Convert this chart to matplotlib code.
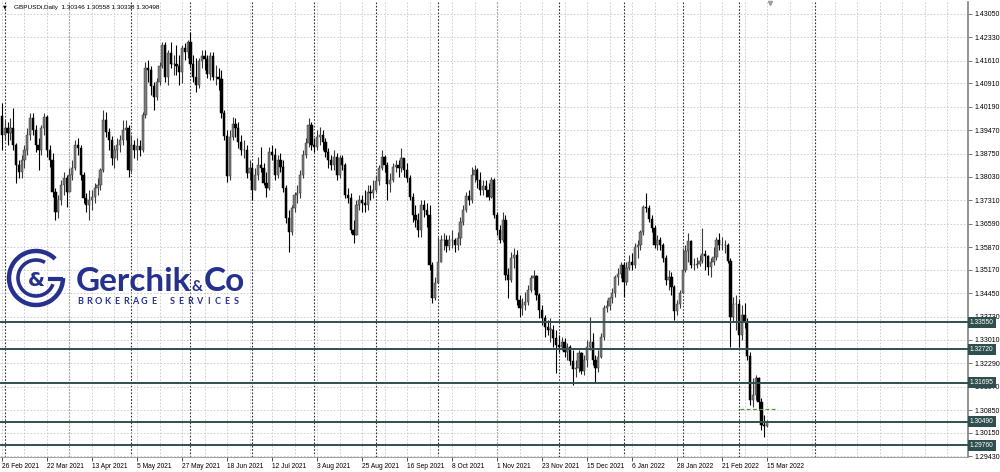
import matplotlib
matplotlib.use('Agg')
import matplotlib.pyplot as plt
from matplotlib.patches import Arc
import numpy as np

plt.rcParams['font.family'] = ['Liberation Sans', 'DejaVu Sans']

# GBPUSDi daily bars, 26 Feb 2021 .. 15 Mar 2022
first_open = 1.3990
closes = [
    1.3932, 1.3954, 1.3938, 1.3954, 1.3901, 1.3840, 1.3818, 1.3855, 1.3886, 1.3932,
    1.3985, 1.3948, 1.3901, 1.3886, 1.3954, 1.3988, 1.3886, 1.3855, 1.3757, 1.3695,
    1.3732, 1.3778, 1.3800, 1.3757,
    1.3809, 1.3831, 1.3901, 1.3892, 1.3809, 1.3738, 1.3717, 1.3732, 1.3741, 1.3769,
    1.3778, 1.3824, 1.3978, 1.3941, 1.3917, 1.3861, 1.3886, 1.3901, 1.3917, 1.3948, 1.3954, 1.3824,
    1.3901, 1.3886, 1.3898, 1.3886, 1.3994, 1.4139, 1.4132, 1.4083, 1.4049, 1.4095,
    1.4145, 1.4209, 1.4111, 1.4185, 1.4151, 1.4151, 1.4145, 1.4126, 1.4200, 1.4188, 1.4219,
    1.4151, 1.4111, 1.4086, 1.4160, 1.4176, 1.4166, 1.4120, 1.4176, 1.4111, 1.4111, 1.4105,
    1.4000, 1.3929, 1.3806, 1.3926, 1.3966, 1.3954, 1.3911, 1.3886, 1.3886, 1.3815, 1.3831,
    1.3763, 1.3809, 1.3840, 1.3831, 1.3784, 1.3769, 1.3880, 1.3871, 1.3809, 1.3855, 1.3834,
    1.3769, 1.3677, 1.3633, 1.3707, 1.3748, 1.3754, 1.3809, 1.3871, 1.3908, 1.3963, 1.3901,
    1.3895, 1.3926, 1.3932, 1.3911, 1.3880, 1.3855, 1.3840, 1.3864, 1.3809, 1.3861, 1.3840,
    1.3748, 1.3738, 1.3640, 1.3624, 1.3717, 1.3732, 1.3723, 1.3717, 1.3757, 1.3754, 1.3763,
    1.3791, 1.3831, 1.3864, 1.3840, 1.3781, 1.3794, 1.3834, 1.3840, 1.3831, 1.3861, 1.3824,
    1.3800, 1.3741, 1.3686, 1.3670, 1.3640, 1.3717, 1.3701, 1.3686, 1.3532, 1.3430, 1.3476,
    1.3541, 1.3609, 1.3609, 1.3590, 1.3609, 1.3609, 1.3593, 1.3615, 1.3664, 1.3701, 1.3744,
    1.3732, 1.3809, 1.3824, 1.3794, 1.3763, 1.3775, 1.3763, 1.3741, 1.3794, 1.3686,
    1.3640, 1.3609, 1.3670, 1.3501, 1.3486, 1.3553, 1.3563, 1.3424, 1.3399, 1.3409, 1.3418,
    1.3455, 1.3492, 1.3498, 1.3439, 1.3393, 1.3369, 1.3341, 1.3332, 1.3332, 1.3307, 1.3285,
    1.3279, 1.3295, 1.3264, 1.3279, 1.3236, 1.3212, 1.3215, 1.3261, 1.3205, 1.3239, 1.3279,
    1.3295, 1.3239, 1.3215, 1.3248, 1.3310, 1.3399, 1.3406, 1.3430, 1.3446, 1.3495, 1.3504, 1.3532,
    1.3479, 1.3523, 1.3541, 1.3532, 1.3587, 1.3593, 1.3633, 1.3710, 1.3707, 1.3673, 1.3646,
    1.3593, 1.3609, 1.3593, 1.3553, 1.3486, 1.3495, 1.3464, 1.3390, 1.3412, 1.3446,
    1.3516, 1.3575, 1.3606, 1.3532, 1.3532, 1.3535, 1.3544, 1.3566, 1.3560, 1.3526,
    1.3541, 1.3557, 1.3609, 1.3593, 1.3593, 1.3593, 1.3544, 1.3372, 1.3412, 1.3412,
    1.3316, 1.3378, 1.3356, 1.3252, 1.3116, 1.3131, 1.3184, 1.3110, 1.3039, 1.30346, 1.30498,
]
highs = [
    1.4031, 1.3978, 1.3972, 1.3985, 1.4015, 1.3908, 1.3855, 1.3871, 1.3901, 1.3954,
    1.4000, 1.4000, 1.3963, 1.3923, 1.3963, 1.4000, 1.3994, 1.3901, 1.3877, 1.3769,
    1.3748, 1.3794, 1.3818, 1.3809,
    1.3831, 1.3855, 1.3917, 1.3923, 1.3901, 1.3818, 1.3754, 1.3763, 1.3763, 1.3784,
    1.3800, 1.3831, 1.4009, 1.4003, 1.3954, 1.3929, 1.3901, 1.3923, 1.3932, 1.3978, 1.3978, 1.3963,
    1.3932, 1.3917, 1.3923, 1.3917, 1.4003, 1.4157, 1.4163, 1.4145, 1.4095, 1.4108,
    1.4157, 1.4219, 1.4219, 1.4194, 1.4219, 1.4179, 1.4209, 1.4179, 1.4209, 1.4216, 1.4225,
    1.4249, 1.4179, 1.4169, 1.4169, 1.4194, 1.4194, 1.4179, 1.4188, 1.4188, 1.4148, 1.4139,
    1.4132, 1.4009, 1.3948, 1.3948, 1.3988, 1.3985, 1.3972, 1.3932, 1.3917, 1.3901, 1.3855,
    1.3846, 1.3831, 1.3864, 1.3895, 1.3846, 1.3818, 1.3895, 1.3901, 1.3892, 1.3871, 1.3877,
    1.3855, 1.3778, 1.3701, 1.3717, 1.3757, 1.3778, 1.3824, 1.3886, 1.3923, 1.3985, 1.3972,
    1.3923, 1.3948, 1.3957, 1.3948, 1.3923, 1.3892, 1.3871, 1.3886, 1.3877, 1.3871, 1.3871,
    1.3846, 1.3769, 1.3754, 1.3670, 1.3732, 1.3748, 1.3748, 1.3763, 1.3778, 1.3778, 1.3794,
    1.3809, 1.3840, 1.3886, 1.3871, 1.3849, 1.3815, 1.3846, 1.3855, 1.3855, 1.3892, 1.3855,
    1.3846, 1.3809, 1.3754, 1.3717, 1.3692, 1.3732, 1.3732, 1.3723, 1.3717, 1.3541, 1.3495,
    1.3618, 1.3624, 1.3630, 1.3624, 1.3624, 1.3640, 1.3615, 1.3633, 1.3680, 1.3717, 1.3757,
    1.3763, 1.3834, 1.3840, 1.3831, 1.3818, 1.3794, 1.3794, 1.3784, 1.3803, 1.3800,
    1.3695, 1.3655, 1.3695, 1.3686, 1.3523, 1.3572, 1.3584, 1.3578, 1.3439, 1.3430, 1.3449,
    1.3470, 1.3501, 1.3516, 1.3501, 1.3446, 1.3409, 1.3378, 1.3362, 1.3369, 1.3347, 1.3332,
    1.3316, 1.3310, 1.3307, 1.3292, 1.3285, 1.3270, 1.3239, 1.3270, 1.3264, 1.3255, 1.3301,
    1.3372, 1.3322, 1.3255, 1.3270, 1.3322, 1.3409, 1.3424, 1.3433, 1.3461, 1.3501, 1.3523, 1.3541,
    1.3541, 1.3541, 1.3563, 1.3569, 1.3600, 1.3609, 1.3640, 1.3717, 1.3754, 1.3717, 1.3686,
    1.3655, 1.3624, 1.3618, 1.3600, 1.3563, 1.3516, 1.3510, 1.3470, 1.3424, 1.3455,
    1.3584, 1.3593, 1.3630, 1.3609, 1.3553, 1.3557, 1.3563, 1.3646, 1.3578, 1.3563,
    1.3553, 1.3587, 1.3618, 1.3630, 1.3618, 1.3609, 1.3600, 1.3553, 1.3433, 1.3439,
    1.3424, 1.3409, 1.3415, 1.3369, 1.3264, 1.3184, 1.3193, 1.3187, 1.3122, 1.3070, 1.30558,
]
lows = [
    1.3886, 1.3917, 1.3901, 1.3917, 1.3886, 1.3784, 1.3800, 1.3800, 1.3831, 1.3871,
    1.3917, 1.3932, 1.3880, 1.3824, 1.3871, 1.3932, 1.3864, 1.3834, 1.3741, 1.3670,
    1.3677, 1.3717, 1.3748, 1.3710,
    1.3763, 1.3794, 1.3824, 1.3871, 1.3794, 1.3723, 1.3695, 1.3670, 1.3701, 1.3723,
    1.3748, 1.3763, 1.3818, 1.3926, 1.3886, 1.3840, 1.3831, 1.3855, 1.3880, 1.3901, 1.3917, 1.3803,
    1.3818, 1.3861, 1.3855, 1.3868, 1.3880, 1.3985, 1.4095, 1.4055, 1.4009, 1.4040,
    1.4086, 1.4139, 1.4095, 1.4086, 1.4139, 1.4117, 1.4117, 1.4086, 1.4092, 1.4163, 1.4169,
    1.4139, 1.4095, 1.4065, 1.4077, 1.4139, 1.4132, 1.4108, 1.4102, 1.4102, 1.4086, 1.4071,
    1.3985, 1.3917, 1.3788, 1.3794, 1.3917, 1.3926, 1.3892, 1.3871, 1.3861, 1.3800, 1.3794,
    1.3732, 1.3763, 1.3794, 1.3818, 1.3778, 1.3741, 1.3763, 1.3855, 1.3794, 1.3800, 1.3818,
    1.3757, 1.3661, 1.3572, 1.3624, 1.3695, 1.3723, 1.3738, 1.3800, 1.3861, 1.3895, 1.3886,
    1.3880, 1.3886, 1.3901, 1.3886, 1.3864, 1.3831, 1.3824, 1.3824, 1.3794, 1.3800, 1.3824,
    1.3738, 1.3723, 1.3630, 1.3600, 1.3624, 1.3701, 1.3695, 1.3695, 1.3701, 1.3732, 1.3738,
    1.3757, 1.3778, 1.3824, 1.3818, 1.3732, 1.3757, 1.3788, 1.3818, 1.3803, 1.3818, 1.3803,
    1.3788, 1.3732, 1.3664, 1.3649, 1.3618, 1.3618, 1.3680, 1.3649, 1.3516, 1.3415, 1.3424,
    1.3523, 1.3541, 1.3578, 1.3572, 1.3578, 1.3584, 1.3572, 1.3578, 1.3593, 1.3655, 1.3695,
    1.3717, 1.3723, 1.3788, 1.3769, 1.3748, 1.3748, 1.3741, 1.3732, 1.3738, 1.3677,
    1.3624, 1.3600, 1.3603, 1.3486, 1.3430, 1.3479, 1.3523, 1.3409, 1.3372, 1.3378, 1.3393,
    1.3409, 1.3449, 1.3455, 1.3424, 1.3369, 1.3347, 1.3310, 1.3316, 1.3295, 1.3279, 1.3199,
    1.3264, 1.3270, 1.3248, 1.3239, 1.3224, 1.3162, 1.3187, 1.3202, 1.3196, 1.3193, 1.3218,
    1.3270, 1.3224, 1.3171, 1.3202, 1.3245, 1.3301, 1.3387, 1.3393, 1.3415, 1.3433, 1.3470, 1.3492,
    1.3433, 1.3470, 1.3516, 1.3516, 1.3523, 1.3553, 1.3578, 1.3624, 1.3695, 1.3664, 1.3633,
    1.3584, 1.3578, 1.3578, 1.3541, 1.3470, 1.3455, 1.3439, 1.3362, 1.3378, 1.3399,
    1.3501, 1.3510, 1.3541, 1.3523, 1.3516, 1.3523, 1.3529, 1.3538, 1.3516, 1.3501,
    1.3495, 1.3532, 1.3547, 1.3578, 1.3578, 1.3569, 1.3538, 1.3279, 1.3356, 1.3332,
    1.3279, 1.3301, 1.3338, 1.3239, 1.3101, 1.3095, 1.3116, 1.3085, 1.3024, 1.3002, 1.30338,
]

date_labels = ['26 Feb 2021', '22 Mar 2021', '13 Apr 2021', '5 May 2021', '27 May 2021',
               '18 Jun 2021', '12 Jul 2021', '3 Aug 2021', '25 Aug 2021', '16 Sep 2021',
               '8 Oct 2021', '1 Nov 2021', '23 Nov 2021', '15 Dec 2021', '6 Jan 2022',
               '28 Jan 2022', '21 Feb 2022', '15 Mar 2022']
label_step = 16
month_starts = [1, 24, 46, 67, 89, 111, 133, 155, 176, 198, 221, 242, 262, 289]
price_ticks = [1.43050, 1.42330, 1.41610, 1.40910, 1.40190, 1.39470, 1.38750, 1.38030,
               1.37310, 1.36590, 1.35870, 1.35170, 1.34450, 1.33730, 1.33010, 1.32290,
               1.31570, 1.30850, 1.30150, 1.29430]
levels = [1.33550, 1.32720, 1.31695, 1.30490, 1.29760]
green_level = 1.3087
green_span = (262.5, 275.5)
header = 'GBPUSDi,Daily  1.30346 1.30558 1.30338 1.30498'

n = len(closes)
idx = np.arange(n)
c = np.array(closes)
o = np.array([first_open] + closes[:-1])
h = np.array(highs)
l = np.array(lows)
up = c >= o

fig = plt.figure(figsize=(10, 4.72), dpi=100)
ax = fig.add_axes([0.0, 0.0318, 0.968, 0.964])
ax.set_xlim(-0.71, 343.46)
ax.set_ylim(1.29405, 1.4342)

# grid
ax.set_xticks(np.arange(0, 344, 8), minor=True)
ax.grid(which='both', axis='x', color='#c8c8c8', ls=(0, (2, 2)), lw=0.6, zorder=0)
ax.grid(which='major', axis='y', color='#c8c8c8', ls=(0, (2, 2)), lw=0.6, zorder=0)
for m in month_starts:
    ax.axvline(m, color='#303030', ls=(0, (1.5, 1.5)), lw=0.8, zorder=1)

# candles
bull, bear = '#7a7a7a', '#000000'
cols = np.where(up, bull, bear)
wick_cols = np.where(up, '#3a3a3a', bear)
ax.vlines(idx, l, h, colors=wick_cols, lw=0.8, zorder=2)
body_lo = np.minimum(o, c)
body_h = np.maximum(np.abs(c - o), 0.00012)
ax.bar(idx, body_h, bottom=body_lo, width=0.8, color=cols,
       edgecolor=wick_cols, lw=0.35, zorder=3)

# levels
for lev in levels:
    ax.axhline(lev, color='#2f4f4f', lw=1.4, zorder=4)
    ax.text(1.002, lev, f'{lev:.5f}', transform=ax.get_yaxis_transform(),
            ha='left', va='center', fontsize=4.8, color='white', zorder=10,
            clip_on=False,
            bbox=dict(boxstyle='square,pad=0.3', fc='#2f4f4f', ec='none'))
ax.hlines(green_level, green_span[0], green_span[1], colors='#4f9a2f',
          linestyles=(0, (3, 2)), lw=0.9, zorder=4)

# axes
ax.yaxis.tick_right()
ax.set_yticks(price_ticks)
ax.set_yticklabels([f'{p:.5f}' for p in price_ticks])
ax.set_xticks(idx[::label_step])
ax.set_xticklabels(date_labels, ha='left')
ax.tick_params(axis='y', which='major', length=3, width=0.6, color='#606060',
               labelsize=5, pad=1.5)
ax.tick_params(axis='x', which='major', length=3, width=0.6, color='#303030',
               labelsize=4.8, pad=1)
ax.tick_params(axis='x', which='minor', length=0)
for side in ['top', 'left']:
    ax.spines[side].set_visible(False)
ax.spines['right'].set_color('#808080')
ax.spines['right'].set_linewidth(1.2)
ax.spines['bottom'].set_color('#909090')
ax.spines['bottom'].set_linewidth(0.6)

# overlay in pixel coordinates for header and logo
ov = fig.add_axes([0, 0, 1, 1], zorder=5)
ov.set_xlim(0, 1000)
ov.set_ylim(472, 0)
ov.axis('off')
ov.patch.set_alpha(0)

ov.text(3, 7, '\u25bc', fontsize=3.5, va='center', ha='left', family='DejaVu Sans')
ov.text(14, 7, header, fontsize=4.6, va='center', ha='left')
ov.plot(770, 3, marker='v', ms=3, color='#a0a0a0')

navy = '#26318f'
ov.add_patch(Arc((36, 278), 54, 54, theta1=0, theta2=315, lw=3.2, color=navy))
ov.add_patch(Arc((36, 278), 36, 36, theta1=20, theta2=300, lw=2.6, color=navy))
ov.plot([48, 63], [279, 279], color=navy, lw=3, solid_capstyle='butt')
ov.text(36, 280, '&', fontsize=14, fontweight='bold', color=navy,
        ha='center', va='center', family='DejaVu Sans')
ov.text(76, 291, 'Gerchik', fontsize=24, fontweight='bold', color=navy,
        ha='left', va='baseline', family='Lato')
ov.text(192, 291, '&', fontsize=11, fontweight='bold', color=navy,
        ha='left', va='baseline', family='Lato')
ov.text(204, 291, 'Co', fontsize=24, fontweight='bold', color=navy,
        ha='left', va='baseline', family='Lato')
sub = 'BROKERAGE SERVICES'
for k, ch in enumerate(sub):
    ov.text(80 + k * 9.2, 302, ch, fontsize=6.5, fontweight='bold', color=navy,
            ha='center', va='center', family='Lato')

fig.savefig('out.png', dpi=100)
